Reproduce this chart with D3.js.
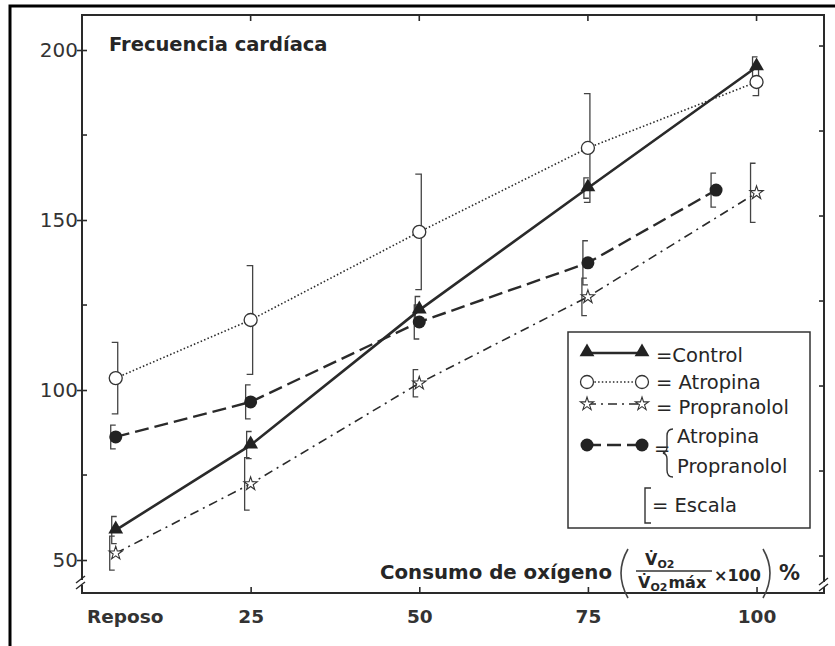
<!DOCTYPE html>
<html>
<head>
<meta charset="utf-8">
<script src="https://cdn.jsdelivr.net/npm/d3@7"></script>
<style>
  html, body { margin: 0; padding: 0; background: #fff; }
  svg { display: block; font-family: "DejaVu Sans", sans-serif; }
</style>
</head>
<body>
<svg id="chart" width="835" height="646"></svg>
<script>
// Heart rate vs. oxygen consumption under four conditions
const xLabels = ["Reposo", "25", "50", "75", "100"];
const xVals = [5, 25, 50, 75, 100];
const yTicks = [50, 100, 150, 200];
const yMinor = [75, 125, 175];

const control = [58.8, 83.8, 123.5, 159.4, 195];
const controlErr = [4, 4, 4, 3, 3];
const atropina = [103.5, 120.6, 146.5, 171.2, 190.6];
const atropinaErr = [10.5, 16, 17, 16, 4];
const propranolol = [52, 72.4, 102, 127.4, 158];
const propranololErr = [5, 7.7, 4, 5.5, 8.7];
const combX = [5, 25, 50, 75, 94];
const combinado = [86.2, 96.5, 120, 137.4, 158.8];
const combinadoErr = [3.5, 5, 5, 6.5, 5];

const svg = d3.select("#chart");
const ink = "#2a2a2a";
const txt = "#262626";

const x = d3.scaleLinear().domain([0, 110]).range([82, 824]);
const y = d3.scaleLinear().domain([40.3, 210.3]).range([593, 15]);

// page frame
svg.append("path").attr("d", "M10,646 L10,6 L835,6")
  .attr("fill", "none").attr("stroke", "#000").attr("stroke-width", 3);

// axes box
svg.append("path")
  .attr("d", `M${x(0)},${y(40.3)} L${x(0)},${y(210.3)} L${x(110)},${y(210.3)} L${x(110)},${y(40.3)} Z`)
  .attr("fill", "none").attr("stroke", ink).attr("stroke-width", 2);

// left axis
const leftAxis = d3.axisLeft(y).tickValues(yTicks).tickSize(5).tickPadding(0).tickFormat(d3.format("d"));
const gl = svg.append("g").attr("transform", `translate(${x(0)},0)`).call(leftAxis);
gl.select(".domain").remove();
gl.selectAll(".tick line").attr("stroke", ink).attr("stroke-width", 1.6).attr("x1", 5);
gl.selectAll(".tick text").attr("font-size", 20).attr("fill", "#333").attr("dx", 1)
  .attr("font-family", "'DejaVu Sans', sans-serif");

// minor ticks on left, ticks on right axis
svg.append("g").selectAll("line").data(yMinor).join("line")
  .attr("x1", x(0)).attr("x2", x(0) + 5).attr("y1", d => y(d)).attr("y2", d => y(d))
  .attr("stroke", ink).attr("stroke-width", 1.6);
svg.append("g").selectAll("line").data(yTicks.concat(yMinor)).join("line")
  .attr("x1", x(110) - 5).attr("x2", x(110)).attr("y1", d => y(d) - 4).attr("y2", d => y(d) - 4)
  .attr("stroke", ink).attr("stroke-width", 1.6);

// bottom axis
const bottomAxis = d3.axisBottom(x).tickValues(xVals).tickSize(-6).tickPadding(14)
  .tickFormat((d, i) => xLabels[i]);
const gb = svg.append("g").attr("transform", `translate(0,${y(40.3)})`).call(bottomAxis);
gb.select(".domain").remove();
gb.selectAll(".tick line").attr("stroke", ink).attr("stroke-width", 1.6)
  .attr("opacity", (d, i) => i === 0 ? 0 : 1);
gb.selectAll(".tick text").attr("font-size", 18.5).attr("font-weight", 700).attr("fill", "#333")
  .attr("font-family", "'DejaVu Sans', sans-serif").attr("dy", "0.85em")
  .attr("dx", (d, i) => i === 0 ? 9 : 0);

// top ticks
svg.append("g").selectAll("line").data(xVals.slice(1)).join("line")
  .attr("x1", d => x(d)).attr("x2", d => x(d)).attr("y1", y(210.3)).attr("y2", y(210.3) + 6)
  .attr("stroke", ink).attr("stroke-width", 1.6);

// axis breaks
function breakMark(cx, cy) {
  svg.append("rect").attr("x", cx - 3).attr("y", cy - 1).attr("width", 6).attr("height", 5).attr("fill", "#fff");
  const g = svg.append("g").attr("stroke", ink).attr("stroke-width", 1.5);
  g.append("line").attr("x1", cx - 5).attr("y1", cy + 2).attr("x2", cx + 4).attr("y2", cy - 5);
  g.append("line").attr("x1", cx - 5).attr("y1", cy + 8).attr("x2", cx + 4).attr("y2", cy + 1);
}
breakMark(x(0) - 1, y(40.3) - 12);
breakMark(x(110), y(40.3) - 10);

// title
svg.append("text").attr("x", 109).attr("y", 51).attr("font-size", 19.5).attr("font-weight", 700)
  .attr("fill", txt).text("Frecuencia cardíaca");

// series definitions
const series = [
  { xs: xVals, ys: control, err: controlErr, dash: null, width: 2.6, marker: "tri", barDx: -4, tick: 5 },
  { xs: xVals, ys: atropina, err: atropinaErr, dash: "1.5,2.2", width: 1.6, marker: "open", barDx: 2, tick: -6 },
  { xs: xVals, ys: propranolol, err: propranololErr, dash: "9,5,2,5", width: 1.6, marker: "star", barDx: -6, tick: 5 },
  { xs: combX, ys: combinado, err: combinadoErr, dash: "14,6", width: 2.4, marker: "dot", barDx: -5, tick: 5 }
];

// error bars
series.forEach(s => {
  const g = svg.append("g").attr("stroke", "#444").attr("stroke-width", 1.3).attr("fill", "none");
  g.selectAll("path").data(s.ys.map((v, i) => ({ x: s.xs[i], v, e: s.err[i] }))).join("path")
    .attr("d", d => {
      const bx = x(d.x) + s.barDx, t = y(d.v + d.e), b = y(d.v - d.e);
      return `M${bx + s.tick},${t} L${bx},${t} L${bx},${b} L${bx + s.tick},${b}`;
    });
});

// lines
const line = d3.line().x(d => x(d[0])).y(d => y(d[1]));
series.forEach(s => {
  svg.append("path").datum(s.ys.map((v, i) => [s.xs[i], v]))
    .attr("d", line).attr("fill", "none").attr("stroke", ink)
    .attr("stroke-width", s.width).attr("stroke-dasharray", s.dash);
});

// markers
function drawMarker(g, type, cx, cy) {
  if (type === "tri") {
    g.append("path").attr("d", d3.symbol(d3.symbolTriangle, 95)())
      .attr("transform", `translate(${cx},${cy - 1})`).attr("fill", "#222");
  } else if (type === "open") {
    g.append("circle").attr("cx", cx).attr("cy", cy).attr("r", 6.5)
      .attr("fill", "#fff").attr("stroke", "#333").attr("stroke-width", 1.3);
  } else if (type === "star") {
    g.append("path").attr("d", d3.symbol(d3.symbolStar, 55)())
      .attr("transform", `translate(${cx},${cy})`).attr("fill", "#fff")
      .attr("stroke", "#333").attr("stroke-width", 1.1);
  } else {
    g.append("circle").attr("cx", cx).attr("cy", cy).attr("r", 6.5).attr("fill", "#222");
  }
}
series.forEach(s => {
  const g = svg.append("g");
  s.ys.forEach((v, i) => drawMarker(g, s.marker, x(s.xs[i]), y(v)));
});

// legend
const lg = svg.append("g");
lg.append("rect").attr("x", 568).attr("y", 332).attr("width", 242).attr("height", 196)
  .attr("fill", "#fff").attr("stroke", "#333").attr("stroke-width", 1.5);
const legendRows = [
  { yy: 353, base: 362, s: series[0], label: "=Control" },
  { yy: 382, base: 389, s: series[1], label: "= Atropina" },
  { yy: 404, base: 414, s: series[2], label: "= Propranolol" }
];
legendRows.forEach(r => {
  lg.append("line").attr("x1", 587).attr("x2", 642).attr("y1", r.yy).attr("y2", r.yy)
    .attr("stroke", ink).attr("stroke-width", r.s.width).attr("stroke-dasharray", r.s.dash);
  drawMarker(lg, r.s.marker, 587, r.yy);
  drawMarker(lg, r.s.marker, 642, r.yy);
  lg.append("text").attr("x", 656).attr("y", r.base).attr("font-size", 19.5).attr("fill", txt).text(r.label);
});
// combined row
lg.append("line").attr("x1", 587).attr("x2", 642).attr("y1", 445).attr("y2", 445)
  .attr("stroke", ink).attr("stroke-width", series[3].width).attr("stroke-dasharray", "14,6");
drawMarker(lg, "dot", 587, 445);
drawMarker(lg, "dot", 642, 445);
lg.append("text").attr("x", 654).attr("y", 455).attr("font-size", 19.5).attr("fill", txt).text("=");
lg.append("path").attr("d", "M673,429 Q667,429 667,436 L667,447 Q667,452 663,453 Q667,454 667,459 L667,470 Q667,477 673,477")
  .attr("fill", "none").attr("stroke", "#333").attr("stroke-width", 1.4);
lg.append("text").attr("x", 677).attr("y", 443).attr("font-size", 19.5).attr("fill", txt).text("Atropina");
lg.append("text").attr("x", 677).attr("y", 473).attr("font-size", 19.5).attr("fill", txt).text("Propranolol");
// scale bracket
lg.append("path").attr("d", "M651,488 L645,488 L645,523 L651,523")
  .attr("fill", "none").attr("stroke", "#333").attr("stroke-width", 1.4);
lg.append("text").attr("x", 652).attr("y", 512).attr("font-size", 19.5).attr("fill", txt).text("= Escala");

// x axis title with fraction
const xt = svg.append("g").attr("fill", txt).attr("font-weight", 700);
xt.append("text").attr("x", 380).attr("y", 579).attr("font-size", 19.8).text("Consumo de oxígeno");
// thin parentheses around the fraction
const paren = svg.append("g").attr("fill", "none").attr("stroke", "#444").attr("stroke-width", 1.6);
paren.append("path").attr("d", "M628,549 Q614,573 628,598");
paren.append("path").attr("d", "M763,549 Q777,573 763,598");
xt.append("text").attr("x", 645).attr("y", 565).attr("font-size", 16)
  .html('V̇<tspan font-size="11" dy="3">O2</tspan>');
xt.append("line").attr("x1", 636).attr("x2", 712).attr("y1", 571).attr("y2", 571)
  .attr("stroke", "#333").attr("stroke-width", 1.4);
xt.append("text").attr("x", 638).attr("y", 588).attr("font-size", 16)
  .html('V̇<tspan font-size="11" dy="3">O2</tspan><tspan dy="-3" dx="1">máx</tspan>');
xt.append("text").attr("x", 714).attr("y", 581).attr("font-size", 16).text("×100");
xt.append("text").attr("x", 779).attr("y", 580).attr("font-size", 21).text("%");
</script>
</body>
</html>
